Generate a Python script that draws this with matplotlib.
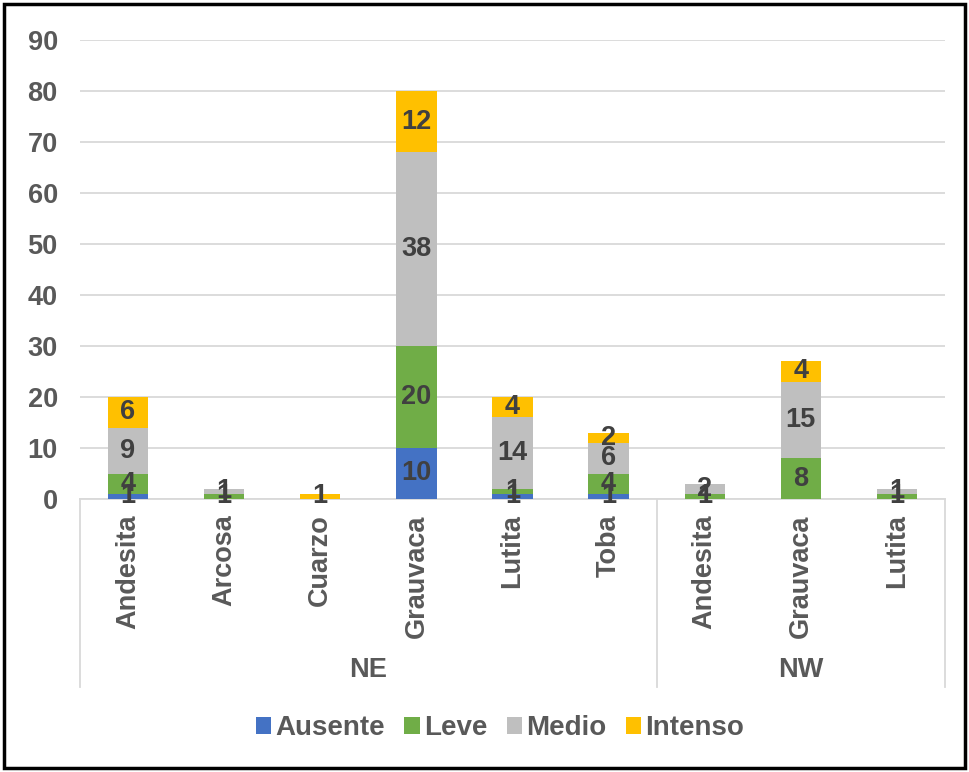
import matplotlib
matplotlib.use("Agg")
import matplotlib.pyplot as plt
from matplotlib.patches import Rectangle
import matplotlib.transforms as mtransforms
import numpy as np

plt.rcParams['font.family'] = ['Liberation Sans', 'DejaVu Sans']
plt.rcParams['font.weight'] = 'bold'

categories = ["Andesita", "Arcosa", "Cuarzo", "Grauvaca", "Lutita", "Toba",
              "Andesita", "Grauvaca", "Lutita"]
groups = ["NE", "NW"]
group_sizes = [6, 3]
series_names = ["Ausente", "Leve", "Medio", "Intenso"]
ausente = [1, 0, 0, 10, 1, 1, 0, 0, 0]
leve = [4, 1, 0, 20, 1, 4, 1, 8, 1]
medio = [9, 1, 0, 38, 14, 6, 2, 15, 1]
intenso = [6, 0, 1, 12, 4, 2, 0, 4, 0]
colors = ["#4472C4", "#70AD47", "#BFBFBF", "#FFC000"]

FS = 19.5
W, H = 969, 772
fig = plt.figure(figsize=(W / 100, H / 100), dpi=100)
ax = fig.add_axes([80 / W, 1 - 499 / H, (945 - 80) / W, (499 - 40) / H])

x = np.arange(len(categories))
bottom = np.zeros(len(categories))
for name, vals, c in zip(series_names, [ausente, leve, medio, intenso], colors):
    vals = np.array(vals, dtype=float)
    bars = ax.bar(x, vals, 0.42, bottom=bottom, color=c, label=name, zorder=3)
    labels = [str(int(v)) if v > 0 else "" for v in vals]
    ax.bar_label(bars, labels=labels, label_type='center', fontsize=FS,
                 fontweight='bold', color='#404040', zorder=4)
    bottom += vals

ax.set_xlim(-0.5, len(categories) - 0.5)
ax.set_ylim(0, 90)
ax.set_yticks(np.arange(0, 91, 10))
ax.grid(axis='y', color='#D9D9D9', linewidth=1.3, zorder=0)
ax.set_axisbelow(True)
for s in ['left', 'right', 'top']:
    ax.spines[s].set_visible(False)
ax.spines['bottom'].set_color('#D9D9D9')
ax.spines['bottom'].set_linewidth(1.3)
ax.tick_params(axis='y', length=0, pad=16, labelsize=FS, labelcolor='#595959')
ax.tick_params(axis='x', length=0, pad=11, labelsize=FS, labelcolor='#595959')
ax.set_xticks(x)
ax.set_xticklabels(categories, rotation=90, va='top', ha='center', fontweight='bold')
for t in ax.get_yticklabels():
    t.set_fontweight('bold')

trans = mtransforms.blended_transform_factory(ax.transData, ax.transAxes)
edges = [-0.5]
for gs in group_sizes:
    edges.append(edges[-1] + gs)
for e in edges:
    ax.plot([e, e], [0, -188 / 459], transform=trans, color='#D9D9D9',
            linewidth=1.3, clip_on=False)
for i, g in enumerate(groups):
    ax.text((edges[i] + edges[i + 1]) / 2, -171 / 459, g, transform=trans,
            ha='center', va='center', fontsize=FS, fontweight='bold', color='#595959')

fig.legend(loc='center', bbox_to_anchor=(0.516, 1 - 728 / H), ncol=4,
           frameon=False, fontsize=20, handlelength=0.55, handleheight=0.55,
           handletextpad=0.15, columnspacing=0.7, labelcolor='#595959')

fig.patches.append(Rectangle((4 / W, 4 / H), (W - 8) / W, (H - 8) / H,
                             transform=fig.transFigure, fill=False,
                             edgecolor='black', linewidth=2.5))

fig.savefig("out.png", dpi=100)
